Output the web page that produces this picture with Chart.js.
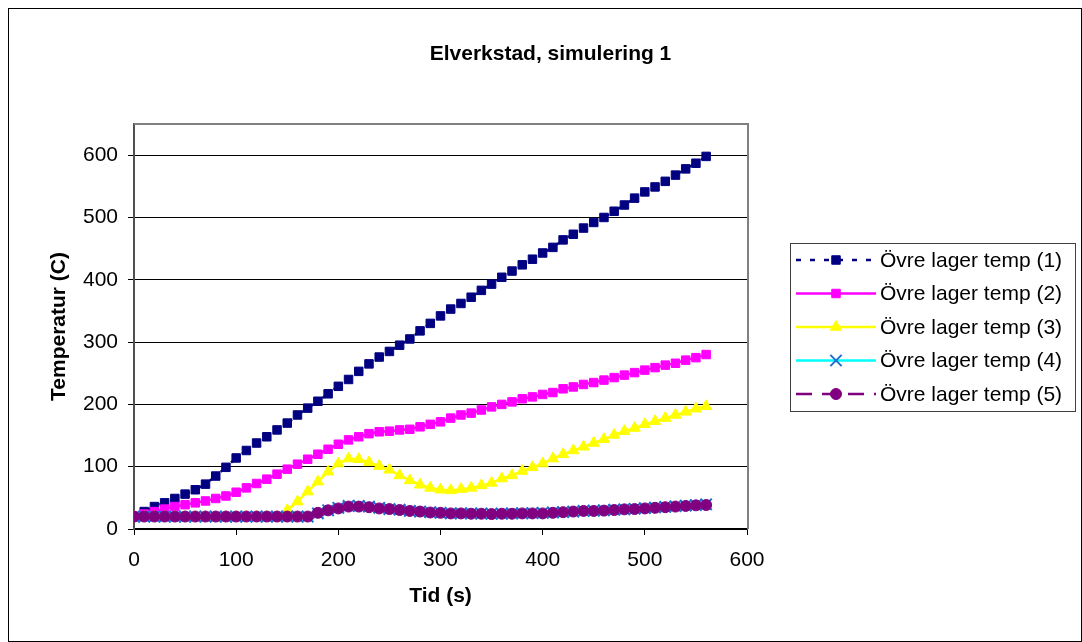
<!DOCTYPE html>
<html>
<head>
<meta charset="utf-8">
<title>Elverkstad, simulering 1</title>
<script src="https://cdn.jsdelivr.net/npm/chart.js@4.4.1/dist/chart.umd.min.js"></script>
<style>
    html, body { margin: 0; padding: 0; background: #fff; }
    #chart_wrap { width: 1082px; height: 642px; }
</style>
</head>
<body>
<div id="chart_wrap"><canvas id="simChart" width="1082" height="642"></canvas></div>
<script>
// Time axis (s), one sample every 10 s
const time_s = [
    0, 10, 20, 30, 40, 50, 60, 70, 80, 90,
    100, 110, 120, 130, 140, 150, 160, 170, 180, 190,
    200, 210, 220, 230, 240, 250, 260, 270, 280, 290,
    300, 310, 320, 330, 340, 350, 360, 370, 380, 390,
    400, 410, 420, 430, 440, 450, 460, 470, 480, 490,
    500, 510, 520, 530, 540, 550, 560
];

const series_labels = [
    'Övre lager temp (1)',
    'Övre lager temp (2)',
    'Övre lager temp (3)',
    'Övre lager temp (4)',
    'Övre lager temp (5)'
];

// Temperatures (C)
const temp_1 = [
    20, 28, 36, 42, 49, 56, 63, 72, 85, 99,
    114, 126, 138, 148, 159, 170, 183, 194, 205, 217,
    229, 240, 253, 265, 276, 285, 295, 305, 318, 330,
    342, 353, 362, 372, 383, 393, 404, 414, 424, 433,
    443, 452, 464, 473, 483, 492, 500, 510, 520, 531,
    541, 549, 558, 568, 578, 587, 598
];
const temp_2 = [
    20, 24, 28, 32, 36, 39, 42, 45, 49, 53,
    59, 66, 73, 80, 88, 96, 104, 112, 120, 128,
    136, 143, 148, 153, 156, 157, 159, 160, 164, 168,
    172, 178, 183, 186, 191, 196, 200, 204, 209, 212,
    216, 219, 225, 228, 232, 235, 239, 243, 247, 251,
    255, 259, 263, 266, 271, 275, 280
];
const temp_3 = [
    19, 19, 19, 19, 19, 19, 19, 19, 19, 19,
    19, 19, 19, 19, 19, 30, 44, 60, 76, 92,
    105, 113, 112, 107, 101, 95, 86, 78, 71, 66,
    63, 62, 64, 66, 70, 74, 81, 86, 93, 99,
    105, 113, 120, 126, 132, 138, 144, 151, 157, 162,
    168, 173, 178, 183, 188, 193, 197
];
const temp_4 = [
    20, 20, 20, 20, 20, 20, 20, 20, 20, 20,
    20, 20, 20, 20, 20, 20, 20, 20, 25, 30,
    34, 37, 37, 36, 34, 32, 31, 29, 28, 27,
    26, 25, 25, 25, 24.5, 24.5, 24.5, 25, 25, 25.5,
    26, 26.5, 27, 28, 29, 29.5, 30, 31, 31.5, 32.5,
    33.5, 34.5, 35.5, 36.5, 37.5, 38.5, 39.5
];
const temp_5 = [
    20, 20, 20, 20, 20, 20, 20, 20, 20, 20,
    20, 20, 20, 20, 20, 20, 20, 20, 26, 30,
    33, 36, 36, 35, 33, 32, 30.5, 29, 28, 26.5,
    26, 25, 25, 24.5, 24.5, 24, 24.5, 24.5, 25, 25,
    25, 26, 27, 28, 29, 29, 29.5, 30.5, 31.5, 32,
    33, 34, 35, 36, 37, 38, 38.5
];

const y_ticks = { min: 0, max: 650, step: 100 };
const x_ticks = { min: 0, max: 600, step: 100 };

const font_family = "'Liberation Sans', Arial, sans-serif";

/**
 * Build {x, y} points for one series
 */
function to_points(values) {
    return time_s.map((t, i) => ({ x: t, y: values[i] }));
}

/**
 * Excel-like legend box and frames, drawn after the chart
 */
const legend_box = { left: 790, top: 243, width: 285, height: 168, row_h: 33.5 };

const excel_frame_plugin = {
    id: 'excel_frame',
    beforeDatasetsDraw(chart) {
        const ctx = chart.ctx;
        const area = chart.chartArea;
        ctx.save();
        ctx.strokeStyle = '#808080';
        ctx.lineWidth = 2;
        ctx.beginPath();
        ctx.moveTo(area.left, area.top);
        ctx.lineTo(area.right + 1, area.top);
        ctx.lineTo(area.right + 1, area.bottom);
        ctx.stroke();
        ctx.restore();
    },
    afterDraw(chart) {
        const ctx = chart.ctx;
        ctx.save();

        // outer chart frame
        ctx.strokeStyle = '#000';
        ctx.lineWidth = 1;
        ctx.strokeRect(8.5, 8.5, chart.width - 9, chart.height - 9);

        // legend
        const lb = legend_box;
        ctx.fillStyle = '#fff';
        ctx.fillRect(lb.left, lb.top, lb.width, lb.height);
        ctx.strokeStyle = '#404040';
        ctx.strokeRect(lb.left + 0.5, lb.top + 0.5, lb.width, lb.height);

        chart.data.datasets.forEach((ds, i) => {
            const y = lb.top + 17 + i * lb.row_h;

            ctx.strokeStyle = ds.borderColor;
            ctx.lineWidth = ds.borderWidth;
            ctx.setLineDash(ds.borderDash || []);
            ctx.beginPath();
            ctx.moveTo(lb.left + 6, y);
            ctx.lineTo(lb.left + 86, y);
            ctx.stroke();
            ctx.setLineDash([]);

            ctx.fillStyle = ds.pointBackgroundColor;
            ctx.strokeStyle = ds.pointBorderColor;
            ctx.lineWidth = ds.pointBorderWidth;
            Chart.helpers.drawPoint(ctx, {
                pointStyle: ds.pointStyle,
                radius: ds.pointRadius,
                borderWidth: ds.pointBorderWidth,
                rotation: 0
            }, lb.left + 46, y);

            ctx.fillStyle = '#000';
            ctx.font = '21px ' + font_family;
            ctx.textAlign = 'left';
            ctx.textBaseline = 'middle';
            ctx.fillText(ds.label, lb.left + 90, y + 1);
        });
        ctx.restore();
    }
};

function make_dataset(idx, values, style) {
    return Object.assign({
        label: series_labels[idx],
        data: to_points(values),
        borderWidth: 2.5,
        tension: 0,
        pointBorderWidth: 1,
        order: 5 - idx
    }, style);
}

const datasets = [
    make_dataset(0, temp_1, {
        borderColor: '#000080', borderDash: [5, 9],
        pointStyle: 'rect', pointRadius: 6,
        pointBackgroundColor: '#000080', pointBorderColor: '#000080'
    }),
    make_dataset(1, temp_2, {
        borderColor: '#ff00ff',
        pointStyle: 'rect', pointRadius: 6,
        pointBackgroundColor: '#ff00ff', pointBorderColor: '#ff00ff'
    }),
    make_dataset(2, temp_3, {
        borderColor: '#ffff00',
        pointStyle: 'triangle', pointRadius: 6.5,
        pointBackgroundColor: '#ffff00', pointBorderColor: '#ffff00'
    }),
    make_dataset(3, temp_4, {
        borderColor: '#00ffff',
        pointStyle: 'crossRot', pointRadius: 8, pointBorderWidth: 2,
        pointBackgroundColor: '#1f6fd0', pointBorderColor: '#1f6fd0'
    }),
    make_dataset(4, temp_5, {
        borderColor: '#800080', borderDash: [16, 10],
        pointStyle: 'circle', pointRadius: 5.5,
        pointBackgroundColor: '#800080', pointBorderColor: '#800080'
    })
];

Chart.defaults.font.family = font_family;
Chart.defaults.color = '#000';

const ctx = document.getElementById('simChart').getContext('2d');
const sim_chart = new Chart(ctx, {
    type: 'line',
    data: { datasets: datasets },
    plugins: [excel_frame_plugin],
    options: {
        responsive: false,
        animation: false,
        devicePixelRatio: 1,
        layout: { padding: { left: 20, right: 1, top: 0, bottom: 0 } },
        plugins: {
            legend: { display: false },
            tooltip: { enabled: false },
            title: {
                display: true,
                text: 'Elverkstad, simulering 1',
                color: '#000',
                font: { size: 21, weight: 'bold' },
                padding: { top: 42, bottom: 56.8 }
            }
        },
        scales: {
            x: {
                type: 'linear',
                position: 'bottom',
                min: x_ticks.min,
                max: x_ticks.max,
                afterFit: (scale) => { scale.height = 113; },
                ticks: {
                    stepSize: x_ticks.step,
                    font: { size: 21 },
                    color: '#000',
                    padding: 13,
                    maxRotation: 0
                },
                grid: {
                    drawOnChartArea: false,
                    drawTicks: true,
                    tickLength: 6,
                    color: '#000'
                },
                border: { display: true, color: '#000', width: 1.5 },
                title: {
                    display: true,
                    text: 'Tid (s)',
                    color: '#000',
                    font: { size: 21, weight: 'bold' },
                    padding: { top: 0, bottom: 33 }
                }
            },
            y: {
                type: 'linear',
                position: 'left',
                min: y_ticks.min,
                max: y_ticks.max,
                afterFit: (scale) => { scale.width = 114; },
                ticks: {
                    stepSize: y_ticks.step,
                    includeBounds: false,
                    font: { size: 21 },
                    color: '#000',
                    padding: 10
                },
                grid: {
                    color: '#000',
                    lineWidth: 1,
                    tickLength: 6
                },
                border: { display: true, color: '#505050', width: 2 },
                title: {
                    display: true,
                    text: 'Temperatur (C)',
                    color: '#000',
                    font: { size: 21, weight: 'bold' },
                    padding: { top: 27, bottom: 0 }
                }
            },
            // empty right-hand band that holds the legend area
            legend_space: {
                type: 'linear',
                position: 'right',
                display: true,
                afterFit: (scale) => { scale.width = 334; },
                ticks: { display: false },
                grid: { display: false },
                border: { display: false }
            }
        }
    }
});
</script>
</body>
</html>
